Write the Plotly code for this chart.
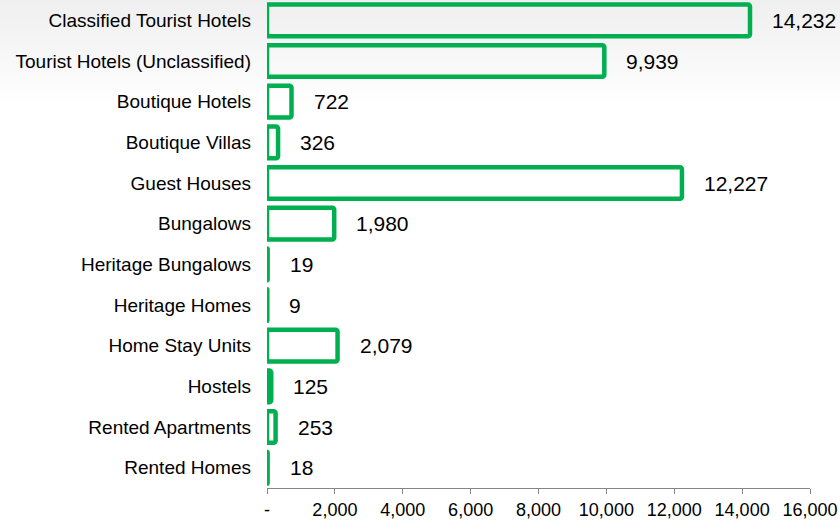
import plotly.graph_objects as go

# Accommodation categories and number of rooms
categories = [
    "Classified Tourist Hotels",
    "Tourist Hotels (Unclassified)",
    "Boutique Hotels",
    "Boutique Villas",
    "Guest Houses",
    "Bungalows",
    "Heritage Bungalows",
    "Heritage Homes",
    "Home Stay Units",
    "Hostels",
    "Rented Apartments",
    "Rented Homes",
]
rooms = [14232, 9939, 722, 326, 12227, 1980, 19, 9, 2079, 125, 253, 18]

tick_values = [0, 2000, 4000, 6000, 8000, 10000, 12000, 14000, 16000]
tick_labels = ["-", "2,000", "4,000", "6,000", "8,000", "10,000", "12,000", "14,000", "16,000"]

GREEN = "#00b050"
FONT = "Liberation Sans, Arial, sans-serif"

W, H = 840, 520
ML, MR, MT, MB = 267, 30, 0, 32
PW, PH = W - ML - MR, H - MT - MB

fig = go.Figure(
    go.Bar(
        x=rooms,
        y=categories,
        orientation="h",
        marker=dict(
            color="rgba(255,255,255,0)",
            line=dict(color=GREEN, width=4.5),
            cornerradius=2,
        ),
        hoverinfo="x+y",
    )
)

# value labels to the right of each bar
for cat, val in zip(categories, rooms):
    fig.add_annotation(
        x=val, y=cat, xref="x", yref="y",
        text=f"{val:,}", showarrow=False,
        xanchor="left", yanchor="middle", xshift=20,
        font=dict(family=FONT, size=21, color="#000000"),
    )

# soft grey fade across the top of the page
steps = 36
fade_px = 108
for i in range(steps):
    y0_px = i * fade_px / steps
    y1_px = (i + 1) * fade_px / steps
    g = round(239 + (255 - 239) * (i + 0.5) / steps)
    fig.add_shape(
        type="rect", xref="paper", yref="paper", layer="below",
        x0=-ML / PW, x1=(W - ML) / PW,
        y0=(PH + MT - y1_px) / PH, y1=(PH + MT - y0_px) / PH,
        fillcolor=f"rgb({g},{g},{g})", line=dict(width=0),
    )

fig.update_layout(
    width=W, height=H,
    margin=dict(l=ML, r=MR, t=MT, b=MB, pad=0),
    paper_bgcolor="white",
    plot_bgcolor="rgba(0,0,0,0)",
    bargap=0.22,
    showlegend=False,
    font=dict(family=FONT, size=18, color="#000000"),
)
fig.update_xaxes(
    range=[0, 16000],
    tickvals=tick_values, ticktext=tick_labels,
    showgrid=False, zeroline=False,
    showline=True, linecolor="#868686", linewidth=1,
    ticks="outside", ticklen=5, tickcolor="#868686", tickwidth=1,
    tickfont=dict(family=FONT, size=18, color="#000000"),
)
fig.update_yaxes(
    categoryorder="array", categoryarray=categories[::-1],
    showgrid=False, zeroline=False, showline=False,
    ticks="", ticklabelstandoff=15,
    tickfont=dict(family=FONT, size=19, color="#000000"),
)

fig.write_html("out.html")
